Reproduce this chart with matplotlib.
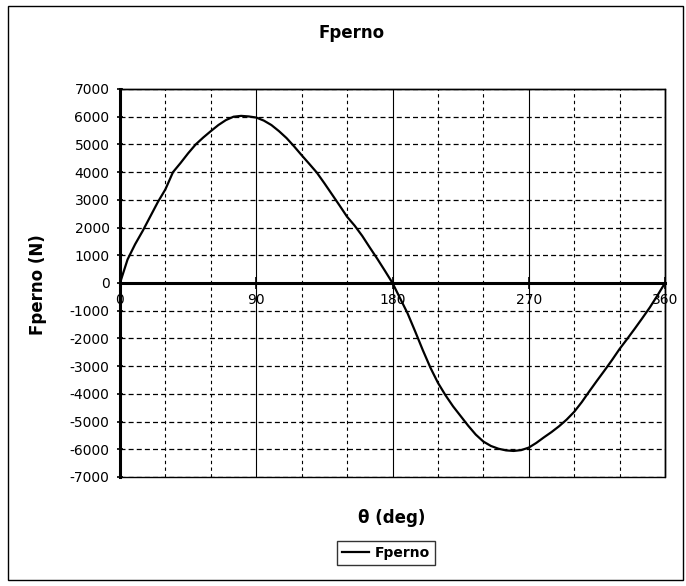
import matplotlib
matplotlib.use("Agg")
import matplotlib.pyplot as plt
from matplotlib.patches import Rectangle
from matplotlib.lines import Line2D

# ---- data ----
theta = [0, 5, 10, 15, 20, 25, 30, 35, 40, 45, 50, 55, 60, 65, 70, 75, 80, 85, 90,
         95, 100, 105, 110, 115, 120, 125, 130, 135, 140, 145, 150, 155, 160, 165, 170, 175, 180,
         185, 190, 195, 200, 205, 210, 215, 220, 225, 230, 235, 240, 245, 250, 255, 260, 265, 270,
         275, 280, 285, 290, 295, 300, 305, 310, 315, 320, 325, 330, 335, 340, 345, 350, 355, 360]
fperno = [0, 850, 1400, 1880, 2400, 2920, 3380, 4000, 4330, 4680, 5000, 5250, 5480, 5700, 5880, 6000, 6030, 6010, 5970,
          5860, 5700, 5480, 5230, 4930, 4610, 4300, 3985, 3600, 3200, 2800, 2390, 2070, 1700, 1280, 870, 440, 0,
          -550, -1100, -1750, -2420, -3050, -3600, -4050, -4450, -4800, -5150, -5470, -5720, -5880, -5980, -6040, -6060, -6030, -5940,
          -5770, -5570, -5380, -5170, -4930, -4650, -4300, -3910, -3530, -3160, -2780, -2380, -2020, -1650, -1270, -880, -450, 0]

x_major = [0, 90, 180, 270, 360]
x_minor = list(range(0, 361, 30))
y_ticks = list(range(-7000, 7001, 1000))

title = "Fperno"
xlabel = "θ (deg)"
ylabel = "Fperno (N)"
series_name = "Fperno"

plt.rcParams['font.family'] = ['DejaVu Sans']
fig = plt.figure(figsize=(6.86, 5.86), dpi=100)
W, H = 686, 586
ax = fig.add_axes([120 / W, 1 - 477 / H, (665 - 120) / W, (477 - 89) / H])

ax.plot(theta, fperno, color='black', lw=1.6, zorder=5, clip_on=False)

ax.set_xlim(0, 360)
ax.set_ylim(-7000, 7000)
ax.set_xticks(x_major)
ax.set_xticks(x_minor, minor=True)
ax.set_yticks(y_ticks)
ax.set_xticklabels([str(v) for v in x_major], fontsize=9.5, fontweight='bold')
ax.set_yticklabels([str(v) for v in y_ticks], fontsize=9.5, fontweight='bold')

# gridlines
ax.yaxis.grid(True, which='major', color='black', lw=0.9, linestyle=(0, (4, 2.5)))
ax.xaxis.grid(True, which='major', color='black', lw=0.8, linestyle='-')
ax.xaxis.grid(True, which='minor', color='black', lw=0.8, linestyle=(0, (3, 3)))
ax.set_axisbelow(True)

# axes lines crossing at zero
ax.spines['bottom'].set_position(('data', 0))
ax.spines['left'].set_position(('data', 0))
for s in ['bottom', 'left']:
    ax.spines[s].set_linewidth(2.2)
    ax.spines[s].set_zorder(6)
for s in ['top', 'right']:
    ax.spines[s].set_linewidth(1.0)
ax.add_patch(Rectangle((0, 0), 1, 1, transform=ax.transAxes, fill=False,
                       lw=1.0, edgecolor='black', zorder=4, clip_on=False))

ax.tick_params(axis='x', which='major', direction='inout', length=8, width=1.2, pad=3)
ax.tick_params(axis='x', which='minor', length=0)
ax.tick_params(axis='y', which='major', direction='inout', length=5, width=1.2, pad=5)

# texts
fig.text(352 / W, 1 - 33 / H, title, ha='center', va='center', fontsize=12, fontweight='bold')
fig.text(38 / W, 1 - 285 / H, ylabel, ha='center', va='center', rotation=90,
         fontsize=12, fontweight='bold')
fig.text(392 / W, 1 - 518 / H, xlabel, ha='center', va='center', fontsize=12, fontweight='bold')

# legend
handle = Line2D([], [], color='black', lw=1.6)
leg = fig.legend([handle], [series_name], loc='center',
                 bbox_to_anchor=(386 / W, 1 - 553 / H), frameon=True, fancybox=False,
                 edgecolor='black', handlelength=2.0, handletextpad=0.4,
                 borderpad=0.35, prop={'size': 10, 'weight': 'bold'})
leg.get_frame().set_linewidth(1.0)

# outer chart frame
fig.patches.append(Rectangle((8 / W, 6 / H), (683 - 8) / W, (580 - 6) / H,
                             transform=fig.transFigure, fill=False, lw=1.0,
                             edgecolor='black'))

fig.savefig('out.png', dpi=100)
